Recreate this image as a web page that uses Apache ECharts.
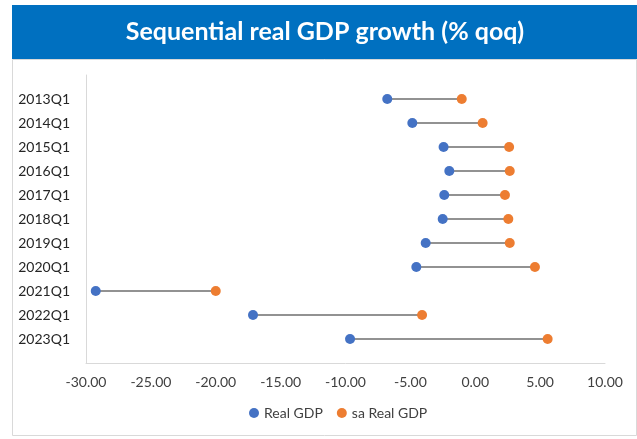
<!DOCTYPE html>
<html>
<head>
<meta charset="utf-8">
<style>html,body{margin:0;padding:0;background:#fff;}#c{width:637px;height:439px;}</style>
<script src="https://cdn.jsdelivr.net/npm/echarts@6/dist/echarts.min.js"></script>
</head>
<body>
<div id="c"></div>
<script>
const categories = ['2013Q1','2014Q1','2015Q1','2016Q1','2017Q1','2018Q1','2019Q1','2020Q1','2021Q1','2022Q1','2023Q1'];
const realGDP = [-6.78,-4.85,-2.44,-2.00,-2.39,-2.51,-3.82,-4.54,-29.25,-17.13,-9.65];
const saRealGDP = [-1.04,0.57,2.61,2.66,2.29,2.55,2.66,4.60,-20.00,-4.10,5.58];
const xTicks = {min:-30, max:10, interval:5};
const titleText = 'Sequential real GDP growth (% qoq)';
const seriesNames = ['Real GDP','sa Real GDP'];

const yCats = [''].concat(categories, ['']);
const font = 'Lato, "Open Sans", sans-serif';
const chart = echarts.init(document.getElementById('c'));
chart.setOption({
  animation:false,
  backgroundColor:'#fff',
  graphic:[
    {type:'rect', shape:{x:12.5,y:59.5,width:624,height:376}, style:{fill:'#fff',stroke:'#d9d9d9',lineWidth:1}, z:-10},
    {type:'rect', shape:{x:12,y:5,width:625,height:54}, style:{fill:'#0070C0'}, z:-5},
    {type:'text', x:325, y:32, style:{text:titleText, fill:'#fff', font:'bold 25px '+font, align:'center', verticalAlign:'middle'}}
  ],
  grid:{left:86,right:32,top:75,bottom:76},
  legend:{
    data:seriesNames, bottom:14, left:244, itemWidth:10, itemHeight:10, itemGap:14,
    icon:'circle', textStyle:{fontFamily:font,fontSize:14,color:'#404040'}
  },
  xAxis:{
    type:'value', min:xTicks.min, max:xTicks.max, interval:xTicks.interval,
    axisLine:{show:true,onZero:false,lineStyle:{color:'#d9d9d9',width:1}},
    axisTick:{show:false}, splitLine:{show:false},
    axisLabel:{margin:12,fontFamily:font,fontSize:14,color:'#404040',formatter:v=>v.toFixed(2)}
  },
  yAxis:{
    type:'category', data:yCats, inverse:true, boundaryGap:false,
    axisLine:{show:true,onZero:false,lineStyle:{color:'#d9d9d9',width:1}},
    axisTick:{show:false}, splitLine:{show:false},
    axisLabel:{margin:16,fontFamily:font,fontSize:14,color:'#262626',interval:0}
  },
  series:[
    {
      type:'custom', name:'conn', z:1, silent:true,
      data:categories.map((c,i)=>[realGDP[i],saRealGDP[i],c]),
      encode:{x:[0,1],y:2},
      renderItem:function(params,api){
        const idx = params.dataIndex + 1;
        const p1 = api.coord([api.value(0), idx]);
        const p2 = api.coord([api.value(1), idx]);
        return {type:'line', shape:{x1:p1[0],y1:p1[1],x2:p2[0],y2:p2[1]}, style:{stroke:'#6e6e6e',lineWidth:1.5}};
      }
    },
    {type:'scatter', name:seriesNames[0], z:3, symbolSize:10, itemStyle:{color:'#4472C4',opacity:1},
     data:categories.map((c,i)=>[realGDP[i],c])},
    {type:'scatter', name:seriesNames[1], z:3, symbolSize:10, itemStyle:{color:'#ED7D31',opacity:1},
     data:categories.map((c,i)=>[saRealGDP[i],c])}
  ]
});
</script>
</body>
</html>
